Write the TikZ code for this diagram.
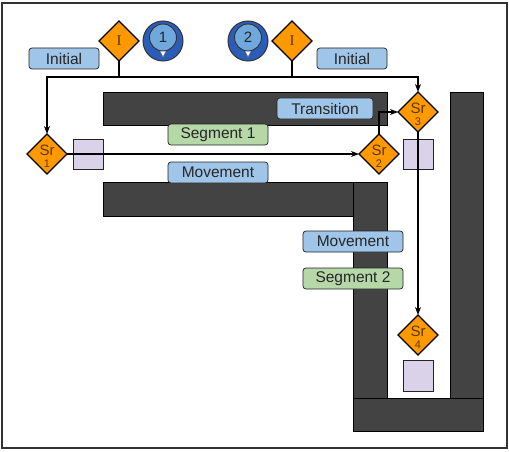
\documentclass[tikz,border=0pt]{standalone}
\usepackage{fontspec}
\setmainfont{Liberation Sans}
\newfontfamily\serifI{Liberation Serif}
\usetikzlibrary{shapes.geometric,arrows.meta}
\definecolor{wallc}{HTML}{434343}
\definecolor{blueL}{HTML}{9FC5E8}
\definecolor{greenL}{HTML}{B6D7A8}
\definecolor{orangeD}{HTML}{FF9900}
\definecolor{lav}{HTML}{D9D2E9}
\definecolor{pinout}{HTML}{2B5CB8}
\definecolor{pinin}{HTML}{6FA8DC}
\definecolor{srtext}{HTML}{5C3700}
\definecolor{edge}{HTML}{222222}
\begin{document}
\begin{tikzpicture}[x=1pt,y=-1pt,
  wall/.style={fill=wallc,draw=black,line width=0.8},
  lbl/.style={draw=edge,line width=0.7,rounded corners=3pt,minimum width=#1,minimum height=21pt,inner sep=0pt,font=\fontsize{15.5}{18}\selectfont,text=black!85},
  bluelbl/.style={lbl=#1,fill=blueL},
  greenlbl/.style={lbl=#1,fill=greenL},
  dia/.style={diamond,aspect=1,minimum size=40pt,inner sep=0pt,outer sep=0pt,fill=orangeD,draw=black,line width=1.1},
  sqbox/.style={rectangle,minimum size=30pt,inner sep=0pt,fill=lav,draw=edge,line width=0.8},
  conn/.style={draw=black,line width=1.1},
  arr/.style={conn,-{Stealth[length=8pt,width=6pt,inset=2.5pt]}},
  srtxt/.style={inner sep=0pt,text=srtext,font=\fontsize{15}{15}\selectfont},
  numtxt/.style={inner sep=0pt,text=srtext,font=\fontsize{11}{11}\selectfont},
]
\useasboundingbox (0,0) rectangle (509,452);
\draw[line width=1.2,draw=black!80] (2,3) rectangle (507,448);

% walls
\draw[wall] (103,92) rectangle (387,125);
\draw[wall] (103,182) rectangle (353,216);
\draw[wall] (353,182) rectangle (387,398);
\draw[wall] (450,92) rectangle (483,398);
\draw[wall] (353,398) rectangle (483,431);

% squares
\node[sqbox] (sq1) at (88,154) {};
\node[sqbox] (sq3) at (418,154) {};
\node[sqbox,minimum height=31pt] (sq4) at (418,376) {};

% labels
\node[bluelbl=70pt] (init1) at (64,58.5) {Initial};
\node[bluelbl=70pt] (init2) at (352,58.5) {Initial};
\node[bluelbl=96pt] (trans) at (325,108.5) {Transition};
\node[greenlbl=100pt] (seg1) at (218,134.5) {Segment 1};
\node[bluelbl=100pt] (mov1) at (218,172.5) {Movement};
\node[bluelbl=100pt] (mov2) at (353,241.5) {Movement};
\node[greenlbl=100pt] (seg2) at (353,278.5) {Segment 2};

% pins
\foreach \nm/\px/\num in {pinA/163/1,pinB/248/2}{
  \node[circle,minimum size=40pt,inner sep=0pt,fill=pinout,draw=black!80,line width=1] (\nm) at (\px,41) {};
  \fill[white,draw=black!60,line width=0.4] (\px-3.5,50) -- (\px+3.5,50) -- (\px,57) -- cycle;
  \node[circle,minimum size=27pt,inner sep=0pt,fill=pinin,draw=black!80,line width=0.9,font=\fontsize{15}{15}\selectfont,text=black!85] (\nm in) at (\px,37.5) {\num};
}

% diamonds
\node[dia] (I1) at (119,41) {};
\node[srtxt,font=\serifI\fontsize{15}{15}\selectfont] (I1t) at (119,41) {I};
\node[dia] (I2) at (292,41) {};
\node[srtxt,font=\serifI\fontsize{15}{15}\selectfont] (I2t) at (292,41) {I};

\node[dia] (Sr1) at (47,154) {};
\node[dia] (Sr2) at (379,154) {};
\node[dia] (Sr3) at (418,112) {};
\node[dia] (Sr4) at (418,335) {};
\foreach \s/\n in {Sr1/1,Sr2/2,Sr3/3,Sr4/4}{
  \node[srtxt] (\s a) at ([yshift=4pt]\s.center) {Sr};
  \node[numtxt] (\s b) at ([yshift=-10pt]\s.center) {\n};
}

% connectors
\coordinate (jl) at (47,77);
\draw[conn] (I1.south) -- (I1.south |- jl);
\draw[conn] (I2.south) -- (I2.south |- jl);
\draw[conn] (I1.south |- jl) -- (I2.south |- jl);
\draw[arr] (I1.south |- jl) -| (Sr1.north);
\draw[arr] (I2.south |- jl) -| (Sr3.north);
\draw[arr] (Sr1.east) -- (Sr2.west);
\draw[arr] (Sr2.north) |- (Sr3.west);
\draw[arr] (Sr3.south) -- (Sr4.north);
\end{tikzpicture}
\end{document}
